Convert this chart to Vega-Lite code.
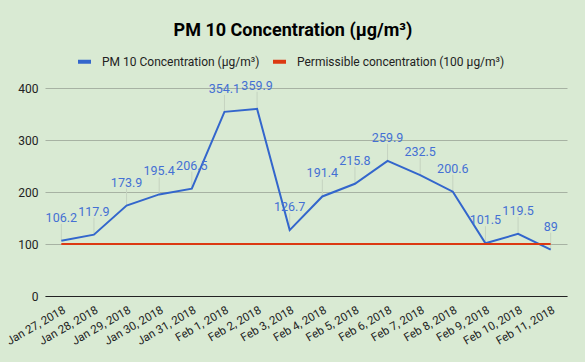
{
  "$schema": "https://vega.github.io/schema/vega-lite/v6.json",
  "width": 522,
  "height": 208,
  "autosize": {"type": "none"},
  "padding": {"left": 45, "top": 88, "right": 18, "bottom": 66},
  "background": "#d9ead3",
  "title": {
    "text": "PM 10 Concentration (µg/m³)",
    "font": "Roboto",
    "fontSize": 18,
    "fontWeight": "bold",
    "color": "#000000",
    "anchor": "middle",
    "frame": "group",
    "dx": -13,
    "offset": 13
  },
  "config": {
    "view": {"stroke": null},
    "font": "Roboto"
  },
  "data": {
    "values": [
      {"date": "Jan 27, 2018", "series": "PM 10 Concentration (µg/m³)", "value": 106.2},
      {"date": "Jan 28, 2018", "series": "PM 10 Concentration (µg/m³)", "value": 117.9},
      {"date": "Jan 29, 2018", "series": "PM 10 Concentration (µg/m³)", "value": 173.9},
      {"date": "Jan 30, 2018", "series": "PM 10 Concentration (µg/m³)", "value": 195.4},
      {"date": "Jan 31, 2018", "series": "PM 10 Concentration (µg/m³)", "value": 206.5},
      {"date": "Feb 1, 2018", "series": "PM 10 Concentration (µg/m³)", "value": 354.1},
      {"date": "Feb 2, 2018", "series": "PM 10 Concentration (µg/m³)", "value": 359.9},
      {"date": "Feb 3, 2018", "series": "PM 10 Concentration (µg/m³)", "value": 126.7},
      {"date": "Feb 4, 2018", "series": "PM 10 Concentration (µg/m³)", "value": 191.4},
      {"date": "Feb 5, 2018", "series": "PM 10 Concentration (µg/m³)", "value": 215.8},
      {"date": "Feb 6, 2018", "series": "PM 10 Concentration (µg/m³)", "value": 259.9},
      {"date": "Feb 7, 2018", "series": "PM 10 Concentration (µg/m³)", "value": 232.5},
      {"date": "Feb 8, 2018", "series": "PM 10 Concentration (µg/m³)", "value": 200.6},
      {"date": "Feb 9, 2018", "series": "PM 10 Concentration (µg/m³)", "value": 101.5},
      {"date": "Feb 10, 2018", "series": "PM 10 Concentration (µg/m³)", "value": 119.5},
      {"date": "Feb 11, 2018", "series": "PM 10 Concentration (µg/m³)", "value": 89},
      {"date": "Jan 27, 2018", "series": "Permissible concentration (100 µg/m³)", "value": 100},
      {"date": "Jan 28, 2018", "series": "Permissible concentration (100 µg/m³)", "value": 100},
      {"date": "Jan 29, 2018", "series": "Permissible concentration (100 µg/m³)", "value": 100},
      {"date": "Jan 30, 2018", "series": "Permissible concentration (100 µg/m³)", "value": 100},
      {"date": "Jan 31, 2018", "series": "Permissible concentration (100 µg/m³)", "value": 100},
      {"date": "Feb 1, 2018", "series": "Permissible concentration (100 µg/m³)", "value": 100},
      {"date": "Feb 2, 2018", "series": "Permissible concentration (100 µg/m³)", "value": 100},
      {"date": "Feb 3, 2018", "series": "Permissible concentration (100 µg/m³)", "value": 100},
      {"date": "Feb 4, 2018", "series": "Permissible concentration (100 µg/m³)", "value": 100},
      {"date": "Feb 5, 2018", "series": "Permissible concentration (100 µg/m³)", "value": 100},
      {"date": "Feb 6, 2018", "series": "Permissible concentration (100 µg/m³)", "value": 100},
      {"date": "Feb 7, 2018", "series": "Permissible concentration (100 µg/m³)", "value": 100},
      {"date": "Feb 8, 2018", "series": "Permissible concentration (100 µg/m³)", "value": 100},
      {"date": "Feb 9, 2018", "series": "Permissible concentration (100 µg/m³)", "value": 100},
      {"date": "Feb 10, 2018", "series": "Permissible concentration (100 µg/m³)", "value": 100},
      {"date": "Feb 11, 2018", "series": "Permissible concentration (100 µg/m³)", "value": 100}
    ]
  },
  "encoding": {
    "x": {
      "field": "date",
      "type": "ordinal",
      "sort": null,
      "scale": {"type": "point", "padding": 0.5},
      "axis": {
        "title": null,
        "labelAngle": -30,
        "labelFont": "Roboto",
        "labelFontSize": 11.5,
        "labelColor": "#222222",
        "ticks": false,
        "domain": true,
        "domainColor": "#222222",
        "domainWidth": 1,
        "labelPadding": 8,
        "grid": false
      }
    },
    "y": {
      "field": "value",
      "type": "quantitative",
      "scale": {"domain": [0, 400], "nice": false},
      "axis": {
        "title": null,
        "values": [0, 100, 200, 300, 400],
        "labelFont": "Roboto",
        "labelFontSize": 12,
        "labelColor": "#222222",
        "ticks": false,
        "domain": false,
        "labelPadding": 7,
        "gridColor": "#a7b2a3",
        "gridWidth": 1
      }
    }
  },
  "layer": [
    {
      "transform": [{"filter": "datum.series === 'PM 10 Concentration (µg/m³)'"}],
      "mark": {"type": "rule", "color": "#c5d3c0", "strokeWidth": 1, "y2Offset": -17},
      "encoding": {
        "y2": {"field": "value"}
      }
    },
    {
      "mark": {"type": "line", "strokeWidth": 2},
      "encoding": {
        "color": {
          "field": "series",
          "type": "nominal",
          "sort": null,
          "scale": {
            "domain": ["PM 10 Concentration (µg/m³)", "Permissible concentration (100 µg/m³)"],
            "range": ["#3366cc", "#dc3912"]
          },
          "legend": {
            "title": null,
            "orient": "none",
            "direction": "horizontal",
            "legendX": 31,
            "legendY": -35,
            "padding": 0,
            "symbolType": "stroke",
            "symbolSize": 169,
            "symbolStrokeWidth": 4,
            "labelFont": "Roboto",
            "labelFontSize": 12,
            "labelColor": "#222222",
            "labelOffset": 9,
            "labelLimit": 400,
            "columnPadding": 5
          }
        }
      }
    },
    {
      "transform": [{"filter": "datum.series === 'PM 10 Concentration (µg/m³)'"}],
      "mark": {"type": "text", "baseline": "bottom", "align": "center", "yOffset": -16, "font": "Roboto", "fontSize": 12.5, "color": "#4470d4"},
      "encoding": {
        "text": {"field": "value", "type": "quantitative"}
      }
    }
  ]
}
